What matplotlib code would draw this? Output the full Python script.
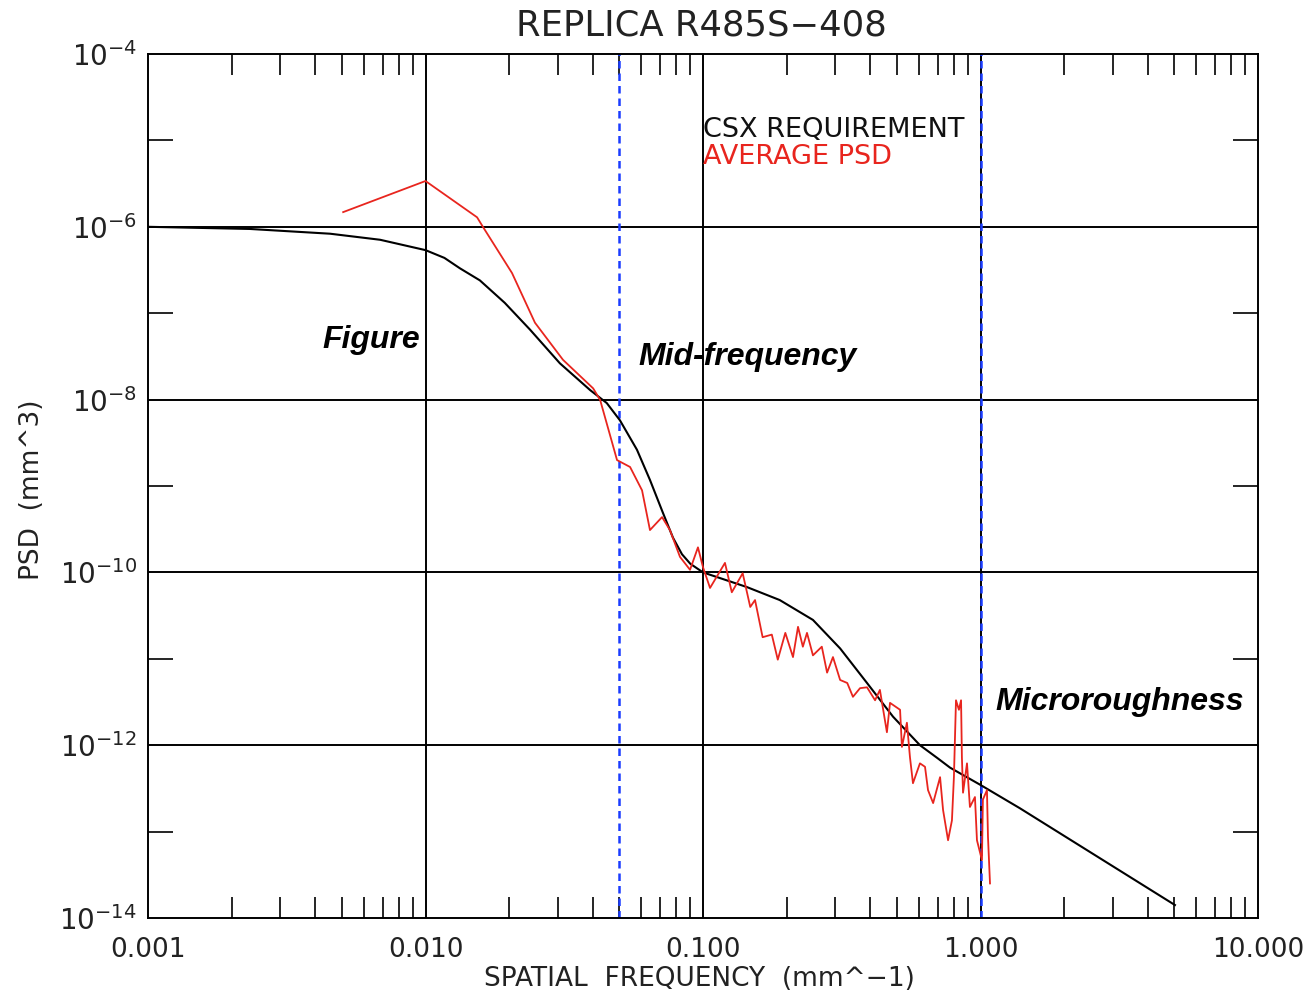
import numpy as np
import matplotlib
matplotlib.use("Agg")
import matplotlib.pyplot as plt
from matplotlib.ticker import LogLocator, FixedLocator, NullFormatter

# CSX requirement (black)
req_freq = [0.001, 0.00233, 0.00453, 0.00686, 0.0100, 0.0117, 0.0133, 0.0157, 0.0193, 0.0238,
            0.0305, 0.0392, 0.0450, 0.0502, 0.0578, 0.0644, 0.0717, 0.0780, 0.0840, 0.0900,
            0.100, 0.144, 0.189, 0.249, 0.312, 0.390, 0.484, 0.605, 0.700, 0.777, 1.00, 1.387, 5.02]
req_logpsd = [-6.00, -6.025, -6.08, -6.15, -6.27, -6.36, -6.48, -6.62, -6.88, -7.19,
              -7.58, -7.89, -8.04, -8.24, -8.58, -8.93, -9.31, -9.60, -9.79, -9.90,
              -10.00, -10.17, -10.32, -10.55, -10.88, -11.28, -11.67, -12.00, -12.15, -12.26,
              -12.46, -12.73, -13.85]

# Average PSD (red)
avg_freq = [0.00505, 0.0100, 0.01534, 0.0161, 0.0205, 0.0248, 0.0313, 0.0402, 0.0426,
            0.0490, 0.0546, 0.0603, 0.0644, 0.0712, 0.0760, 0.0826, 0.0898, 0.0959,
            0.100, 0.106, 0.120, 0.127, 0.139, 0.148, 0.154, 0.164, 0.177, 0.186,
            0.198, 0.211, 0.220, 0.229, 0.237, 0.249, 0.268, 0.280, 0.294, 0.312,
            0.331, 0.347, 0.368, 0.390, 0.417, 0.434, 0.460, 0.472, 0.513, 0.521,
            0.543, 0.557, 0.571, 0.605, 0.631, 0.647, 0.675, 0.715, 0.733, 0.764,
            0.789, 0.802, 0.816, 0.836, 0.851, 0.857, 0.865, 0.894, 0.916, 0.955,
            0.971, 1.012, 1.020, 1.055, 1.064, 1.082]
avg_logpsd = [-5.83, -5.47, -5.89, -6.00, -6.535, -7.11, -7.54, -7.87, -8.005,
              -8.70, -8.78, -9.05, -9.51, -9.36, -9.51, -9.82, -9.97, -9.71,
              -9.94, -10.18, -9.89, -10.23, -10.01, -10.40, -10.32, -10.75, -10.72, -11.01,
              -10.70, -10.98, -10.63, -10.86, -10.70, -10.96, -10.86, -11.16, -10.98, -11.245,
              -11.28, -11.44, -11.34, -11.33, -11.48, -11.36, -11.85, -11.51, -11.59, -12.02,
              -11.74, -12.14, -12.44, -12.21, -12.25, -12.52, -12.67, -12.37, -12.75, -13.10,
              -12.87, -12.37, -11.48, -11.59, -11.48, -12.14, -12.55, -12.21, -12.715, -12.60,
              -13.10, -13.33, -12.63, -12.52, -13.06, -13.60]

region_lines = [0.05, 1.0]
xtick_vals = [0.001, 0.01, 0.1, 1.0, 10.0]
xtick_labels = ["0.001", "0.010", "0.100", "1.000", "10.000"]
ytick_exps = [-4, -6, -8, -10, -12, -14]

plt.rcParams['font.family'] = ['DejaVu Sans']
plt.rcParams['mathtext.fontset'] = 'dejavusans'
fig = plt.figure(figsize=(13.13, 10), dpi=100)
ax = fig.add_axes([148/1313, 82/1000, 1110/1313, 864/1000])

ax.set_xscale('log')
ax.set_yscale('log')
ax.set_xlim(0.001, 10)
ax.set_ylim(1e-14, 1e-4)

# grid lines at decades
for xv in xtick_vals[1:-1]:
    ax.axvline(xv, color='black', lw=1.4, zorder=1)
for e in ytick_exps[1:-1]:
    ax.axhline(10.0**e, color='black', lw=1.4, zorder=1)

for xv in region_lines:
    ax.axvline(xv, color='#1a3cff', lw=1.8, ls=(0, (3, 2)), zorder=2)

ax.plot(req_freq, 10.0**np.array(req_logpsd), color='black', lw=1.5, zorder=3)
ax.plot(avg_freq, 10.0**np.array(avg_logpsd), color='#e8251e', lw=1.3, zorder=4)

# ticks
ax.xaxis.set_major_locator(FixedLocator(xtick_vals))
ax.set_xticklabels(xtick_labels)
ax.xaxis.set_minor_locator(LogLocator(base=10, subs=np.arange(2, 10), numticks=20))
ax.xaxis.set_minor_formatter(NullFormatter())
ax.yaxis.set_major_locator(FixedLocator([10.0**e for e in ytick_exps]))
ax.set_yticklabels([r"$10^{%d}$" % e for e in ytick_exps])
ax.yaxis.set_minor_locator(FixedLocator([10.0**e for e in [-5, -7, -9, -11, -13]]))
ax.yaxis.set_minor_formatter(NullFormatter())
ax.tick_params(axis='both', which='both', direction='in', top=True, right=True,
               width=1.2, color='black')
ax.tick_params(axis='x', which='major', length=0, labelsize=19, pad=14, labelcolor='#222222')
ax.tick_params(axis='y', which='major', length=0, labelsize=20, pad=8, labelcolor='#222222')
ax.tick_params(axis='x', which='minor', length=15)
ax.tick_params(axis='y', which='minor', length=18)
for s in ax.spines.values():
    s.set_linewidth(1.4)

fig.text(0.534, 0.974, "REPLICA R485S\u2212408", ha='center', va='center', fontsize=25.5, color='#222222')
fig.text(0.533, 0.021, "SPATIAL  FREQUENCY  (mm^\u22121)", ha='center', va='center', fontsize=19, color='#222222')
fig.text(0.024, 0.51, "PSD  (mm^3)", ha='center', va='center', rotation=90, fontsize=19, color='#222222')

ax.text(0.1, 10.0**-4.88, "CSX REQUIREMENT", ha='left', va='center', fontsize=19.5, color='#111111')
ax.text(0.1, 10.0**-5.19, "AVERAGE PSD", ha='left', va='center', fontsize=19.5, color='#e8251e')

bi = dict(family='Liberation Sans', fontweight='bold', fontstyle='italic', fontsize=23, color='black')
ax.text(0.0064, 10.0**-7.31, "Figure", ha='center', va='center', **bi)
ax.text(0.145, 10.0**-7.51, "Mid-frequency", ha='center', va='center', **bi)
ax.text(3.18, 10.0**-11.5, "Microroughness", ha='center', va='center', **bi)

fig.savefig("out.png", dpi=100)
